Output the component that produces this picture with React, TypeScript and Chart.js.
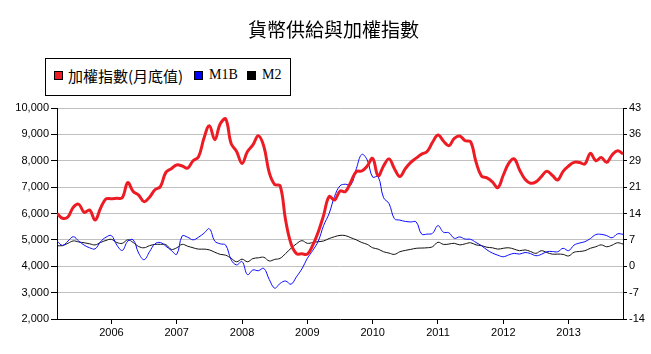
import React, { useEffect, useRef } from "react";
import { Chart, registerables } from "chart.js";

Chart.register(...registerables);

// ---- data (monthly, March 2005 .. November 2013) ----
const START_YEAR = 2005;
const START_MONTH = 3; // March

// 加權指數 (month-end), left axis
const TAIEX: number[] = [
  // 2005 Mar-Dec
  6000, 5820, 5870, 6240, 6350, 6045, 6130, 5750, 6200, 6550,
  // 2006
  6560, 6575, 6600, 7170, 6830, 6700, 6450, 6620, 6900, 7020, 7560, 7700,
  // 2007
  7840, 7800, 7720, 8000, 8150, 8850, 9330, 8800, 9400, 9580, 8650, 8350,
  // 2008
  7900, 8350, 8600, 8950, 8550, 7550, 7100, 7050, 5750, 4850, 4480, 4470,
  // 2009
  4460, 4800, 5300, 5940, 6640, 6510, 6850, 6830, 7200, 7590, 7610, 7800,
  // 2010
  8090, 7430, 7800, 8070, 7700, 7400, 7700, 7940, 8100, 8250, 8350, 8700,
  // 2011
  8980, 8750, 8570, 8850, 8940, 8760, 8720, 7950, 7420, 7350, 7200, 6980,
  // 2012
  7450, 7900, 8070, 7650, 7300, 7150, 7200, 7400, 7600, 7450, 7270, 7600,
  // 2013 Jan-Nov
  7800, 7940, 7930, 7880, 8280, 8000, 8120, 7940, 8220, 8380, 8260,
];

// M1B growth (%), right axis
const M1B: number[] = [
  6.84, 5.63, 6.77, 7.98, 6.77, 5.7, 4.99, 4.7, 6.63, 7.84,
  8.27, 5.7, 4.28, 6.77, 7.13, 3.56, 1.78, 3.92, 6.06, 6.41, 5.42, 4.28,
  3.21, 8.19, 7.84, 7.13, 7.84, 8.91, 10.12, 6.77, 6.06, 5.7, 1.78, 0.36,
  1.28, -2.28, -1.0, -1.21, -0.57, -3.56, -5.91, -4.63, -3.99, -4.85, -2.85, -0.71,
  2.14, 4.28, 6.77, 11.04, 14.25, 18.88, 21.73, 22.16, 21.95, 26.36, 30.21, 28.71,
  24.08, 24.23, 18.53, 16.96, 12.83, 12.47, 12.11, 11.97, 11.97, 8.69, 8.69, 8.91,
  10.97, 9.19, 9.05, 7.55, 7.91, 7.34, 7.27, 6.41, 5.56, 4.42, 3.56, 2.99,
  2.57, 3.06, 3.49, 3.28, 3.71, 3.42, 2.85, 3.21, 3.92, 3.99, 3.92, 4.85,
  4.2, 5.7, 6.27, 6.63, 7.48, 8.55, 8.62, 8.27, 7.7, 8.76, 8.62,
];

// M2 growth (%), right axis
const M2: number[] = [
  5.56, 5.56, 6.2, 6.84, 6.56, 6.34, 6.06, 5.77, 6.41, 6.98,
  7.27, 6.41, 6.2, 7.13, 6.41, 5.34, 4.99, 5.56, 5.91, 5.91, 5.84, 4.56,
  4.99, 5.91, 5.42, 4.99, 4.63, 4.63, 4.42, 3.78, 3.21, 2.99, 2.14, 1.21,
  1.92, 1.21, 2.07, 2.28, 2.42, 1.43, 1.85, 2.14, 3.42, 4.85, 6.06, 6.91,
  6.2, 6.41, 6.63, 6.84, 7.48, 7.98, 8.34, 8.27, 7.7, 7.13, 6.41, 5.91,
  4.99, 4.63, 3.92, 3.56, 3.21, 3.92, 4.28, 4.56, 4.85, 4.92, 4.99, 5.27,
  6.48, 5.91, 5.99, 6.2, 5.77, 6.06, 6.34, 5.77, 5.56, 5.13, 4.99, 4.63,
  4.85, 4.99, 4.63, 4.2, 4.42, 3.99, 3.49, 4.2, 3.71, 3.28, 3.28, 3.21,
  2.78, 3.78, 3.99, 4.2, 4.85, 5.27, 5.77, 5.27, 5.7, 6.34, 5.99,
];

const YEAR_TICKS = [2006, 2007, 2008, 2009, 2010, 2011, 2012, 2013];
const LEFT_TICKS = [2000, 3000, 4000, 5000, 6000, 7000, 8000, 9000, 10000];
const RIGHT_TICKS = [-14.25, -7.125, 0, 7.125, 14.25, 21.375, 28.5, 35.625, 42.75];

const TITLE = "貨幣供給與加權指數";
const SERIES_NAMES = ["加權指數(月底值)", "M1B", "M2"];
const COLORS = ["#ed1c24", "#0a0aff", "#111111"];

const monthX = (i: number) => START_YEAR + (START_MONTH - 1 + i) / 12;
const toPoints = (vals: number[]) => vals.map((y, i) => ({ x: monthX(i), y }));

const TICK_FONT = { family: "'Liberation Sans', Arial, sans-serif", size: 11 };

export default function App() {
  const canvasRef = useRef<HTMLCanvasElement | null>(null);

  useEffect(() => {
    const canvas = canvasRef.current;
    if (!canvas) return;
    const chart = new Chart(canvas, {
      type: "line",
      data: {
        datasets: [
          {
            label: SERIES_NAMES[0],
            data: toPoints(TAIEX),
            yAxisID: "y",
            borderColor: COLORS[0],
            borderWidth: 3,
            pointRadius: 0,
            tension: 0.4,
            fill: false,
          },
          {
            label: SERIES_NAMES[1],
            data: toPoints(M1B),
            yAxisID: "y1",
            borderColor: COLORS[1],
            borderWidth: 1,
            pointRadius: 0,
            tension: 0.4,
            fill: false,
          },
          {
            label: SERIES_NAMES[2],
            data: toPoints(M2),
            yAxisID: "y1",
            borderColor: COLORS[2],
            borderWidth: 1,
            pointRadius: 0,
            tension: 0.4,
            fill: false,
          },
        ],
      },
      options: {
        responsive: false,
        animation: false,
        devicePixelRatio: 1,
        layout: { padding: { top: 108, left: 0, right: 0, bottom: 0 } },
        plugins: {
          legend: { display: false },
          title: { display: false },
          tooltip: { enabled: false },
        },
        scales: {
          x: {
            type: "linear",
            min: monthX(0),
            max: monthX(TAIEX.length - 1),
            afterBuildTicks: (s: any) => {
              s.ticks = YEAR_TICKS.map((v) => ({ value: v }));
            },
            afterFit: (s: any) => {
              s.height = 35;
            },
            grid: {
              drawOnChartArea: false,
              drawTicks: true,
              tickLength: 5,
              tickColor: "#000",
            },
            border: { color: "#000", width: 1 },
            ticks: {
              callback: (v: any) => String(v),
              color: "#000",
              font: TICK_FONT,
              padding: 2,
              maxRotation: 0,
              autoSkip: false,
            },
          },
          y: {
            type: "linear",
            position: "left",
            min: LEFT_TICKS[0],
            max: LEFT_TICKS[LEFT_TICKS.length - 1],
            afterBuildTicks: (s: any) => {
              s.ticks = LEFT_TICKS.map((v) => ({ value: v }));
            },
            afterFit: (s: any) => {
              s.width = 57;
            },
            grid: { color: "#c0c0c0", tickColor: "#000", tickLength: 6, lineWidth: 1 },
            border: { color: "#000", width: 1 },
            ticks: {
              callback: (v: any) => Number(v).toLocaleString("en-US"),
              color: "#000",
              font: TICK_FONT,
              padding: 2,
            },
          },
          y1: {
            type: "linear",
            position: "right",
            min: RIGHT_TICKS[0],
            max: RIGHT_TICKS[RIGHT_TICKS.length - 1],
            afterBuildTicks: (s: any) => {
              s.ticks = RIGHT_TICKS.map((v) => ({ value: v }));
            },
            afterFit: (s: any) => {
              s.width = 28;
            },
            grid: { drawOnChartArea: false, tickColor: "#000", tickLength: 4 },
            border: { color: "#000", width: 1 },
            ticks: {
              callback: (v: any) => String(Math.round(Number(v))),
              color: "#000",
              font: TICK_FONT,
              padding: 2,
            },
          },
        },
      },
    } as any);
    return () => chart.destroy();
  }, []);

  const cjk = "'Noto Sans CJK TC', 'Noto Sans CJK SC', sans-serif";
  const serif = "'Liberation Serif', 'Times New Roman', serif";

  const square = (left: number, color: string): React.CSSProperties => ({
    position: "absolute",
    left,
    top: 71,
    width: 7,
    height: 7,
    background: color,
    border: "1px solid #000",
  });

  return (
    <div
      style={{
        position: "absolute",
        left: 0,
        top: 0,
        width: 651,
        height: 354,
        background: "#fff",
        overflow: "hidden",
      }}
    >
      <canvas ref={canvasRef} width={651} height={354} style={{ position: "absolute", left: 0, top: 0 }} />
      <div
        style={{
          position: "absolute",
          left: 248,
          top: 19,
          fontFamily: cjk,
          fontSize: 19,
          lineHeight: "19px",
          color: "#000",
          whiteSpace: "nowrap",
        }}
      >
        {TITLE}
      </div>
      <div
        style={{
          position: "absolute",
          left: 45,
          top: 58,
          width: 244,
          height: 36,
          border: "1px solid #000",
          background: "#fff",
        }}
      />
      <div style={square(54, COLORS[0])} />
      <div
        style={{
          position: "absolute",
          left: 68,
          top: 68,
          fontFamily: cjk,
          fontSize: 15,
          lineHeight: "15px",
          color: "#000",
          whiteSpace: "nowrap",
        }}
      >
        {SERIES_NAMES[0]}
      </div>
      <div style={square(194, "#0000ff")} />
      <div
        style={{
          position: "absolute",
          left: 209,
          top: 68,
          fontFamily: serif,
          fontSize: 14,
          lineHeight: "14px",
          color: "#000",
          whiteSpace: "nowrap",
        }}
      >
        {SERIES_NAMES[1]}
      </div>
      <div style={square(247, "#000")} />
      <div
        style={{
          position: "absolute",
          left: 262,
          top: 68,
          fontFamily: serif,
          fontSize: 14,
          lineHeight: "14px",
          color: "#000",
          whiteSpace: "nowrap",
        }}
      >
        {SERIES_NAMES[2]}
      </div>
    </div>
  );
}
